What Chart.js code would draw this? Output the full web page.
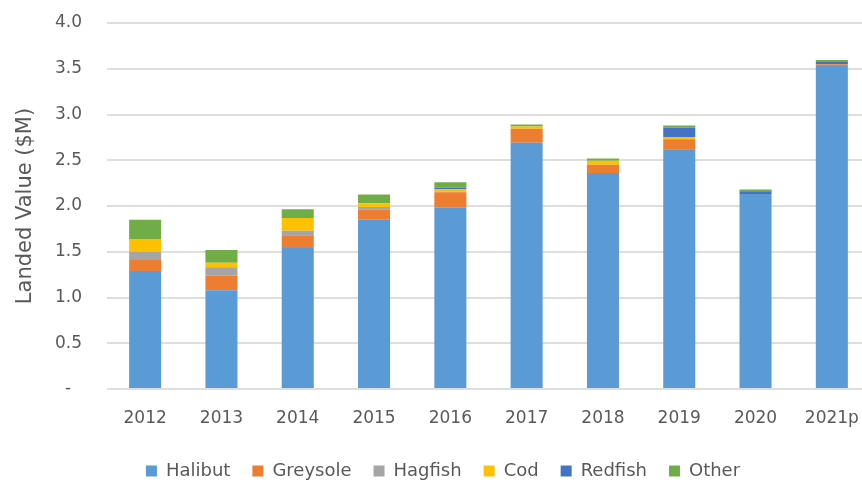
<!DOCTYPE html>
<html>
<head>
    <meta charset="utf-8">
    <title>Landed Value</title>
    <script src="https://cdn.jsdelivr.net/npm/chart.js"></script>
    <style>
        html, body { margin: 0; padding: 0; background: #fff; overflow: hidden; }
        #wrap { width: 870px; height: 490px; }
    </style>
</head>
<body>
    <div id="wrap"><canvas id="landed-chart"></canvas></div>
    <script>
        const years = ['2012', '2013', '2014', '2015', '2016', '2017', '2018', '2019', '2020', '2021p'];
        const halibut  = [1.29, 1.08, 1.54, 1.85, 1.98, 2.69, 2.36, 2.62, 2.13, 3.53];
        const greysole = [0.12, 0.16, 0.14, 0.11, 0.17, 0.155, 0.09, 0.11, 0, 0.02];
        const hagfish  = [0.09, 0.09, 0.05, 0.03, 0.005, 0, 0, 0, 0, 0];
        const cod      = [0.14, 0.05, 0.14, 0.04, 0.03, 0.025, 0.045, 0.025, 0, 0];
        const redfish  = [0, 0, 0, 0, 0.015, 0, 0, 0.10, 0.03, 0.025];
        const other    = [0.21, 0.14, 0.095, 0.095, 0.06, 0.02, 0.025, 0.025, 0.02, 0.02];

        const font = 'DejaVu Sans';
        const textColor = '#595959';

        const series = [
            ['Halibut', halibut, '#5B9BD5'],
            ['Greysole', greysole, '#ED7D31'],
            ['Hagfish', hagfish, '#A5A5A5'],
            ['Cod', cod, '#FFC000'],
            ['Redfish', redfish, '#4472C4'],
            ['Other', other, '#70AD47']
        ];

        const datasets = series.map(s => ({
            label: s[0],
            data: s[1],
            backgroundColor: s[2],
            borderWidth: 0,
            categoryPercentage: 0.42,
            barPercentage: 1
        }));

        new Chart(document.getElementById('landed-chart'), {
            type: 'bar',
            data: { labels: years, datasets: datasets },
            options: {
                responsive: true,
                maintainAspectRatio: false,
                animation: false,
                // left padding shifts the centred legend a bit right, like the original
                layout: { padding: { top: 23, bottom: 0, left: 16, right: 0 } },
                plugins: {
                    tooltip: { enabled: false },
                    legend: {
                        position: 'bottom',
                        labels: {
                            boxWidth: 11,
                            boxHeight: 11,
                            padding: 22,
                            color: textColor,
                            font: { family: font, size: 18 }
                        }
                    }
                },
                scales: {
                    x: {
                        stacked: true,
                        grid: { display: false },
                        border: { display: false },
                        ticks: {
                            color: textColor,
                            padding: 11,
                            maxRotation: 0,
                            autoSkip: false,
                            font: { family: font, size: 17 }
                        },
                        afterFit: axis => { axis.height = 51; }
                    },
                    y: {
                        stacked: true,
                        min: 0,
                        max: 4,
                        grid: { color: '#dedede', lineWidth: 2, drawTicks: false },
                        border: { display: false },
                        ticks: {
                            stepSize: 0.5,
                            padding: 25,
                            color: textColor,
                            font: { family: font, size: 17 },
                            callback: v => v === 0 ? '-  ' : v.toFixed(1)
                        },
                        title: {
                            display: true,
                            text: 'Landed Value ($M)',
                            color: textColor,
                            padding: { top: -3, bottom: 0 },
                            font: { family: font, size: 21 }
                        },
                        afterFit: axis => {
                            axis.width = 91;
                            axis.paddingTop = 0;
                            axis.paddingBottom = 0;
                        }
                    }
                }
            }
        });
    </script>
</body>
</html>
